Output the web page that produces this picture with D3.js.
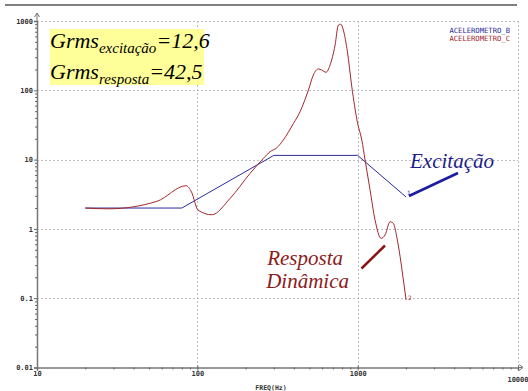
<!DOCTYPE html>
<html>
<head>
<meta charset="utf-8">
<script src="https://cdn.jsdelivr.net/npm/d3@7/dist/d3.min.js"></script>
<style>
  html, body { margin: 0; padding: 0; background: #fff; }
  svg { display: block; }
  .tick text { font-family: "DejaVu Sans Mono", monospace; font-size: 7px; font-weight: bold; fill: #333; }
</style>
</head>
<body>
<svg id="chart" width="528" height="391"></svg>
<script>
// PSD spectrum: excitation (ACELEROMETRO_B) and response (ACELEROMETRO_C)
const excitationFreq = [20, 80, 300, 1000, 2000];
const excitationPsd  = [2.0, 2.0, 11.5, 11.5, 2.9];

const responseFreq = [20, 28, 56, 85, 92, 101, 123, 160, 213, 258, 284, 313, 344, 397, 437, 493, 529, 569, 597, 635, 673, 723, 758, 785, 814, 863, 919, 995, 1061, 1112, 1195, 1284, 1400, 1483, 1593, 1670, 1753, 1839, 1928, 2005];
const responsePsd  = [2.0, 1.95, 2.5, 4.2, 3.4, 1.87, 1.6, 2.75, 6.3, 10.4, 13, 14.8, 19.2, 33, 49, 101, 166, 203, 196, 182, 232, 450, 875, 900, 740, 360, 113, 35, 19.2, 9.9, 3.64, 1.34, 0.73, 0.82, 1.27, 1.2, 0.77, 0.40, 0.183, 0.094];

const xTicks = [10, 100, 1000, 10000];
const xTickLabels = ["10", "100", "1000", "10000"];
const yTicks = [0.01, 0.1, 1, 10, 100, 1000];
const yTickLabels = ["0.01", "0.1", "1", "10", "100", "1000"];
const legendLabels = ["ACELEROMETRO_B", "ACELEROMETRO_C"];

const blue = "#2b2b9e";
const red = "#a3282c";

const svg = d3.select("#chart");
const x = d3.scaleLog().domain([10, 10000]).range([37, 518]);
const y = d3.scaleLog().domain([0.01, 1000]).range([367.5, 21]);

// header rule
svg.append("line").attr("x1", 5).attr("x2", 517).attr("y1", 5).attr("y2", 5)
  .attr("stroke", "#555").attr("stroke-width", 1.5);

// dashed grid
const grid = svg.append("g").attr("stroke", "#bdbdbd").attr("stroke-dasharray", "2,2").attr("stroke-width", 1);
yTicks.slice(1).forEach(v => grid.append("line")
  .attr("x1", x(10)).attr("x2", x(10000)).attr("y1", Math.round(y(v)) + 0.5).attr("y2", Math.round(y(v)) + 0.5));
xTicks.slice(1).forEach(v => grid.append("line")
  .attr("x1", Math.round(x(v)) + 0.5).attr("x2", Math.round(x(v)) + 0.5).attr("y1", y(1000)).attr("y2", y(0.01)));

// minor ticks
const minorX = [];
[10, 100, 1000].forEach(d => { for (let k = 2; k <= 9; k++) minorX.push(d * k); });
const minorY = [];
[0.01, 0.1, 1, 10, 100].forEach(d => { for (let k = 2; k <= 9; k++) minorY.push(d * k); });

const axisX = svg.append("g").attr("transform", `translate(0,${y(0.01)})`)
  .call(d3.axisBottom(x).tickValues(xTicks).tickSize(3).tickFormat((d, i) => xTickLabels[i]));
svg.append("g").attr("transform", `translate(0,${y(0.01)})`)
  .call(d3.axisBottom(x).tickValues(minorX).tickSize(2).tickFormat(""))
  .call(g => g.select(".domain").remove());
const axisY = svg.append("g").attr("transform", `translate(${x(10)},0)`)
  .call(d3.axisLeft(y).tickValues(yTicks).tickSize(3).tickFormat((d, i) => yTickLabels[i]));
svg.append("g").attr("transform", `translate(${x(10)},0)`)
  .call(d3.axisLeft(y).tickValues(minorY).tickSize(2).tickFormat(""))
  .call(g => g.select(".domain").remove());

svg.selectAll(".domain").attr("stroke", "#777").attr("stroke-width", 1.5);
svg.selectAll(".tick line").attr("stroke", "#666");
axisX.selectAll(".tick line").attr("y1", -2);
axisX.selectAll(".tick text").attr("y", 4);
axisX.selectAll(".tick").filter(d => d === 10000).select("text")
  .attr("text-anchor", "end").attr("x", 10).attr("y", 10);
axisY.selectAll(".tick text").attr("x", -4);

// axis arrow heads
svg.append("path").attr("d", `M${x(10) - 2.5},17 L${x(10)},13 L${x(10) + 2.5},17 M${x(10)},13 V21`)
  .attr("fill", "none").attr("stroke", "#777").attr("stroke-width", 1);
svg.append("path").attr("d", `M518,${y(0.01)} H522 M519,${y(0.01) - 3} L523,${y(0.01)} L519,${y(0.01) + 3}`)
  .attr("fill", "none").attr("stroke", "#777").attr("stroke-width", 1);

// axis title
svg.append("text").attr("x", 271).attr("y", 389.5).attr("text-anchor", "middle")
  .attr("font-family", "DejaVu Sans Mono, monospace").attr("font-size", 6.5).attr("font-weight", "bold")
  .attr("fill", "#333").text("FREQ(Hz)");

// curves
const exData = excitationFreq.map((f, i) => [f, excitationPsd[i]]);
const reData = responseFreq.map((f, i) => [f, responsePsd[i]]);
svg.append("path").datum(exData)
  .attr("d", d3.line().x(d => x(d[0])).y(d => y(d[1])))
  .attr("fill", "none").attr("stroke", blue).attr("stroke-width", 1);
svg.append("path").datum(reData)
  .attr("d", d3.line().curve(d3.curveMonotoneX).x(d => x(d[0])).y(d => y(d[1])))
  .attr("fill", "none").attr("stroke", red).attr("stroke-width", 1);

// curve end markers
svg.append("text").attr("x", x(2000) + 1).attr("y", y(2.9) - 2)
  .attr("font-family", "DejaVu Sans Mono, monospace").attr("font-size", 6).attr("fill", blue).text("1");
svg.append("text").attr("x", x(2005) + 2).attr("y", y(0.094))
  .attr("font-family", "DejaVu Sans Mono, monospace").attr("font-size", 6).attr("fill", red).text("2");

// legend
const legendColors = [blue, red];
legendLabels.forEach((t, i) => svg.append("text")
  .attr("x", 510).attr("y", 33 + i * 7.5).attr("text-anchor", "end")
  .attr("font-family", "DejaVu Sans Mono, monospace").attr("font-size", 7.2)
  .attr("fill", legendColors[i]).text(t));

// Grms box
svg.append("rect").attr("x", 50).attr("y", 29).attr("width", 154).attr("height", 56).attr("fill", "#ffff99");
const grms = [["excitação", "=12,6", 48], ["resposta", "=42,5", 79]];
grms.forEach(([sub, val, by]) => {
  const t = svg.append("text").attr("x", 50).attr("y", by)
    .attr("font-family", "Liberation Serif, serif").attr("font-style", "italic")
    .attr("font-size", 22).attr("fill", "#000");
  t.append("tspan").text("Grms");
  t.append("tspan").attr("font-size", 15).attr("dy", 5).text(sub);
  t.append("tspan").attr("dy", -5).text(val);
});

// annotations
const ann = svg.append("g").attr("font-family", "Liberation Serif, serif")
  .attr("font-style", "italic").attr("font-size", 21);
ann.append("text").attr("x", 410).attr("y", 168).attr("fill", "#1c1c8c").text("Excitação");
ann.append("text").attr("x", 343).attr("y", 265).attr("text-anchor", "end").attr("fill", "#8c1a1a").text("Resposta");
ann.append("text").attr("x", 349).attr("y", 288).attr("text-anchor", "end").attr("fill", "#8c1a1a").text("Dinâmica");
svg.append("line").attr("x1", 409).attr("y1", 196).attr("x2", 458).attr("y2", 173)
  .attr("stroke", "#1c1ca0").attr("stroke-width", 2.5);
svg.append("line").attr("x1", 361.5).attr("y1", 268.5).attr("x2", 385).attr("y2", 245.5)
  .attr("stroke", "#8c1414").attr("stroke-width", 2.5);
</script>
</body>
</html>
